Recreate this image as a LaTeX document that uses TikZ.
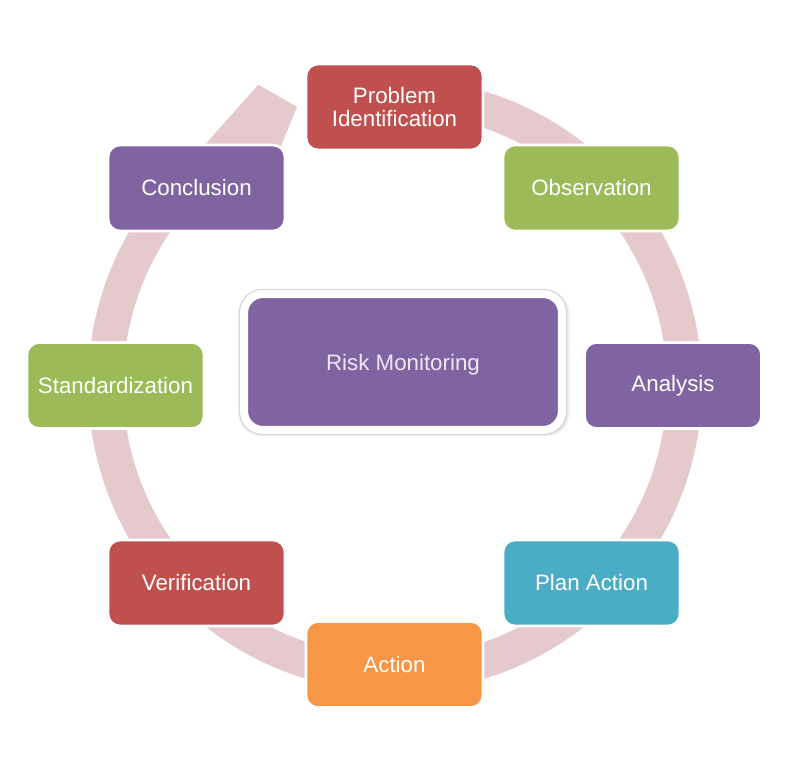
\documentclass[tikz,border=0pt]{standalone}
\usepackage{fontspec}
\setmainfont{Liberation Sans}
\usetikzlibrary{calc,shadows.blur}
\definecolor{cred}{HTML}{C0504D}
\definecolor{cgreen}{HTML}{9BBB59}
\definecolor{cpurple}{HTML}{8064A2}
\definecolor{ccyan}{HTML}{4BACC6}
\definecolor{corange}{HTML}{F79646}
\definecolor{cring}{HTML}{E5C9CC}
\definecolor{clav}{HTML}{EFE6F2}
\tikzset{
  stage/.style={rounded corners=0.24cm, draw=white, line width=1.5pt,
    text=white, align=center, minimum width=3.54cm, minimum height=1.72cm,
    inner sep=0pt, font=\fontsize{12.7}{13.6}\selectfont},
  hub/.style={rounded corners=0.38cm, draw=white, line width=0.16cm, fill=cpurple,
    text=clav, minimum width=6.36cm, minimum height=2.72cm, text depth=0pt,
    font=\fontsize{12.7}{13.6}\selectfont,
    blur shadow={shadow xshift=0.6pt, shadow yshift=-0.8pt, shadow blur radius=2.5pt,
      shadow scale=1.02, shadow opacity=30},
    preaction={draw=black!16, line width=0.21cm}},
}
\begin{document}
\begin{tikzpicture}[x=0.02cm,y=0.02cm]
\useasboundingbox (0,0) rectangle (800,761);
\coordinate (C) at (395,376);
% ring with arrowhead
\fill[cring] ($(C)+(90:6.14cm)$) arc[start angle=90, end angle=-232.2, radius=6.14cm]
  -- ($(C)+(114.5:6.6cm)$) coordinate (headout)
  -- ($(C)+(109.4:5.9cm)$) coordinate (tip)
  -- ($(C)+(118:5.1cm)$) coordinate (headin)
  -- ($(C)+(124:5.44cm)$) arc[start angle=-236, end angle=90, radius=5.44cm] -- cycle;
% nodes
\node[stage, fill=cred]    (prob) at (394.5,654)   {Problem\\Identification};
\node[stage, fill=cgreen]  (obs)  at (591.5,573)   {Observation};
\node[stage, fill=cpurple] (ana)  at (673,375.5)   {Analysis};
\node[stage, fill=ccyan]   (plan) at (591.5,178)   {Plan Action};
\node[stage, fill=corange] (act)  at (394.5,96.5)  {Action};
\node[stage, fill=cred]    (ver)  at (196.5,178)   {Verification};
\node[stage, fill=cgreen]  (std)  at (115.5,375.5) {Standardization};
\node[stage, fill=cpurple] (con)  at (196.5,573)   {Conclusion};
\node[hub] (risk) at (403,399) {Risk Monitoring};
\end{tikzpicture}
\end{document}
